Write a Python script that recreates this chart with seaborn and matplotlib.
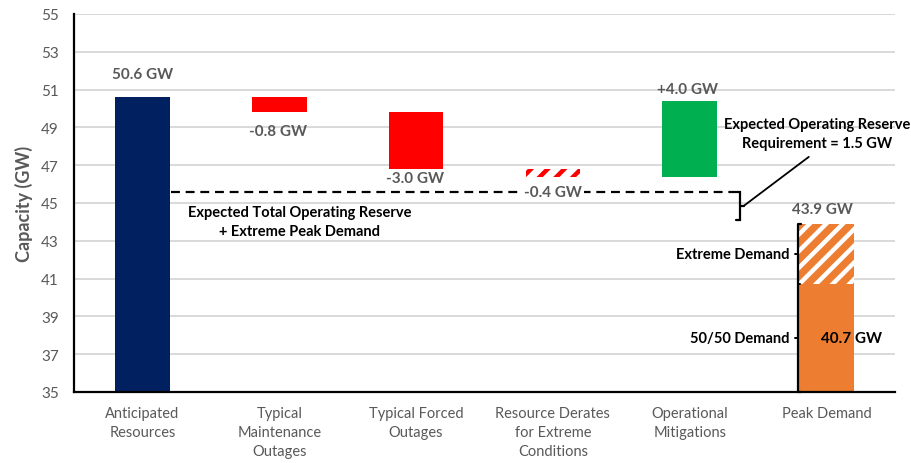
import matplotlib
matplotlib.use("Agg")
import matplotlib.pyplot as plt
import seaborn as sns
import pandas as pd
import numpy as np

# --- data -------------------------------------------------------------
categories = ["Anticipated\nResources", "Typical\nMaintenance\nOutages",
              "Typical Forced\nOutages", "Resource Derates\nfor Extreme\nConditions",
              "Operational\nMitigations", "Peak Demand"]
anticipated = 50.6
changes = [-0.8, -3.0, -0.4, 4.0]          # waterfall steps
demand_5050 = 40.7
demand_extreme = 43.9
reserve_req = 1.5
reserve_line = 45.6                         # total operating reserve + extreme demand
axis_floor = 35
y_ticks = list(range(35, 56, 2))

# --- waterfall geometry ---------------------------------------------
bottoms, heights = [axis_floor], [anticipated - axis_floor]
level = anticipated
for c in changes:
    new = level + c
    bottoms.append(min(level, new))
    heights.append(abs(c))
    level = new
bottoms.append(axis_floor)
heights.append(demand_5050 - axis_floor)

df = pd.DataFrame({"cat": categories, "height": heights, "bottom": bottoms})
colors = ["#002060", "#FF0000", "#FF0000", "#FFFFFF", "#00B050", "#ED7D31"]

sns.set_theme(style="white")
plt.rcParams["font.family"] = ["Lato", "DejaVu Sans"]
plt.rcParams["hatch.linewidth"] = 3.2

fig = plt.figure(figsize=(9.11, 4.64), dpi=100)
ax = fig.add_axes([74 / 911, 71 / 464, 821 / 911, 378 / 464])

ax.set_axisbelow(True)
ax.yaxis.grid(True, color="#D9D9D9", linewidth=1.4)

sns.barplot(data=df, x="cat", y="height", order=categories, color="#002060",
            width=0.4, bottom=df["bottom"].values, linewidth=0, saturation=1, ax=ax)
main_bars = list(ax.patches)
for bar, col in zip(main_bars, colors):
    bar.set_facecolor(col)

# extreme part of peak demand stacked on the 50/50 demand
ext = pd.DataFrame({"cat": [categories[-1]], "height": [demand_extreme - demand_5050],
                    "bottom": [demand_5050]})
sns.barplot(data=ext, x="cat", y="height", order=categories, color="#ED7D31",
            width=0.4, bottom=ext["bottom"].values, linewidth=0, saturation=1, ax=ax)
extreme = ax.patches[-1]

# derate bar: red stripes; extreme demand: white stripes over orange
derate = main_bars[3]
derate.set_facecolor("white")
derate.set_edgecolor("#FF0000")
derate.set_hatch("//")
extreme.set_facecolor("#ED7D31")
extreme.set_edgecolor("white")
extreme.set_hatch("//")

# --- axes styling ---------------------------------------------------
ax.set_ylim(axis_floor, 55)
ax.set_xlim(-0.5, 5.5)
ax.set_yticks(y_ticks)
ax.tick_params(axis="y", length=0, pad=11, labelsize=11, labelcolor="#595959")
ax.tick_params(axis="x", length=0, pad=10, labelsize=10.5, labelcolor="#595959")
for lbl in ax.get_xticklabels():
    lbl.set_linespacing(1.45)
    lbl.set_verticalalignment("top")
ax.set_xlabel("")
ax.set_ylabel("Capacity (GW)", fontsize=13, fontweight="bold", color="#595959", labelpad=6)
for s in ["top", "right"]:
    ax.spines[s].set_visible(False)
for s in ["left", "bottom"]:
    ax.spines[s].set_color("black")
    ax.spines[s].set_linewidth(1.6)

# --- value labels ---------------------------------------------------
lab = dict(ha="center", va="center", fontsize=11, fontweight="bold", color="#595959")
below_offsets = {1: 1.0, 2: 0.5}
ax.text(0, anticipated + 1.2, f"{anticipated:.1f} GW", **lab)
lvl = anticipated
for i, c in enumerate(changes, start=1):
    new = lvl + c
    txt = f"{c:+.1f} GW" if c > 0 else f"{c:.1f} GW"
    if c > 0:
        ax.text(i - 0.02, new + 0.63, txt, **lab)
    elif i == 3:
        ax.text(i, reserve_line, txt, bbox=dict(facecolor="white", edgecolor="none", pad=1.5),
                zorder=5, **lab)
    else:
        ax.text(i - 0.01, new - below_offsets[i], txt, **lab)
    lvl = new
ax.text(4.97, demand_extreme + 0.78, f"{demand_extreme:.1f} GW", **lab)
ax.text(5.18, (axis_floor + demand_5050) / 2, f"{demand_5050:.1f} GW",
        ha="center", va="center", fontsize=11, fontweight="bold", color="black")

# --- reserve line and bracket ---------------------------------------
bx = 4.37
ax.plot([0.21, bx - 0.03], [reserve_line, reserve_line], color="black",
        linewidth=1.6, dashes=(4, 2.6), zorder=4)
req_low = reserve_line - reserve_req
mid = (reserve_line + req_low) / 2
ax.plot([bx - 0.03, bx, bx, bx - 0.03], [reserve_line, reserve_line, req_low, req_low],
        color="black", linewidth=1.6, solid_joinstyle="miter")
ax.plot([bx, bx + 0.025], [mid, mid], color="black", linewidth=1.6)
ax.plot([bx + 0.025, 4.87], [mid, 47.44], color="black", linewidth=1.3)
ax.text(4.93, 48.7, f"Expected Operating Reserve\nRequirement = {reserve_req:.1f} GW",
        ha="center", va="center", fontsize=10.5, fontweight="bold", color="black",
        linespacing=1.45, clip_on=False)

ax.text(1.15, 44.0, "Expected Total Operating Reserve\n+ Extreme Peak Demand",
        ha="center", va="center", fontsize=10.5, fontweight="bold", color="black",
        linespacing=1.45)

# --- peak demand brace ----------------------------------------------
px = 4.788
ax.plot([px + 0.025, px, px, px + 0.025], [demand_extreme, demand_extreme, axis_floor, axis_floor],
        color="black", linewidth=1.6, clip_on=False)
ax.plot([px, px + 0.02], [demand_5050, demand_5050], color="black", linewidth=1.4)
m_ext = (demand_extreme + demand_5050) / 2
m_5050 = (demand_5050 + axis_floor) / 2
for m in (m_ext, m_5050):
    ax.plot([px - 0.02, px], [m, m], color="black", linewidth=1.4)
ax.text(px - 0.06, m_ext, "Extreme Demand", ha="right", va="center",
        fontsize=10.5, fontweight="bold", color="black")
ax.text(px - 0.06, m_5050, "50/50 Demand", ha="right", va="center",
        fontsize=10.5, fontweight="bold", color="black")

fig.savefig("out.png", dpi=100)
